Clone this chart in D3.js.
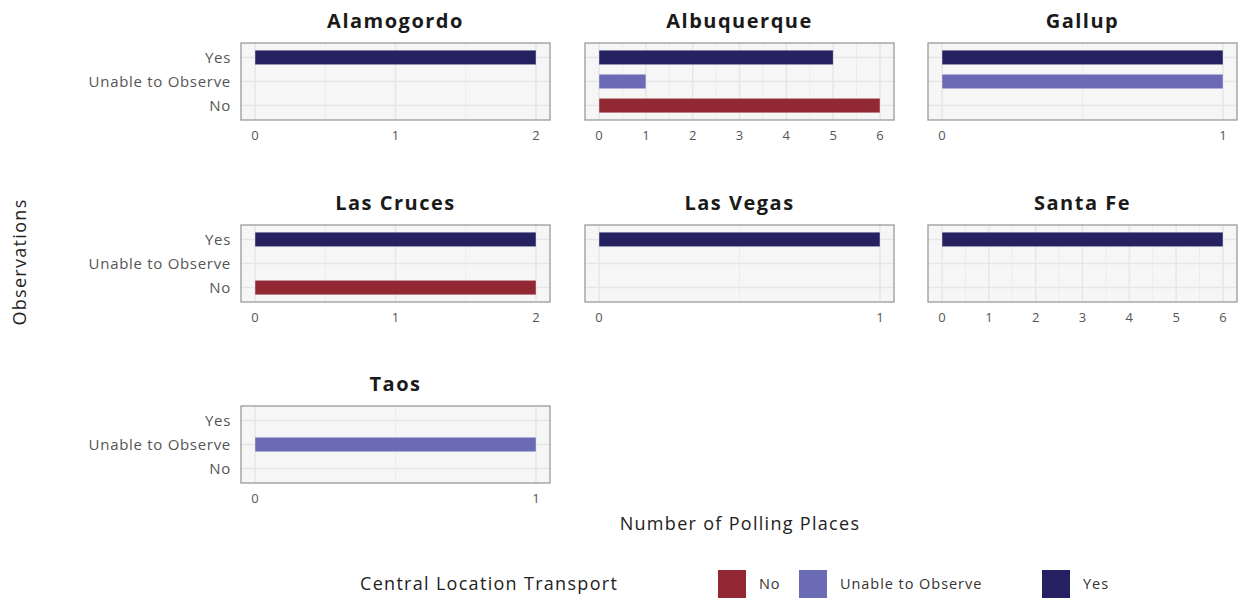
<!DOCTYPE html>
<html>
<head>
<meta charset="utf-8">
<script src="https://cdn.jsdelivr.net/npm/d3@7"></script>
<style>
  body { margin: 0; background: #fff; }
  svg text { font-family: "Open Sans", Roboto, sans-serif; }
</style>
</head>
<body>
<script>
// data
var cities = ["Alamogordo", "Albuquerque", "Gallup", "Las Cruces", "Las Vegas", "Santa Fe", "Taos"];
var categories = ["No", "Unable to Observe", "Yes"];
var yesCounts    = [2, 5, 1, 2, 1, 6, 0];
var unableCounts = [0, 1, 1, 0, 0, 0, 1];
var noCounts     = [0, 6, 0, 2, 0, 0, 0];
var colors = ["#922834", "#6b6ab5", "#262262"];

var w = 1239, h = 598;

var svg = d3.select("body").append("svg")
    .attr("width", w)
    .attr("height", h);

var colX = [241, 585, 928];
var rowY = [43, 225, 406];
var pw = 309, ph = 77;

var color = d3.scaleOrdinal().domain(categories).range(colors);

// y: discrete, Yes on top (ggplot expand 0.6)
var y = d3.scalePoint()
    .domain(["Yes", "Unable to Observe", "No"])
    .range([0, ph])
    .padding(0.6);
var barH = y.step() * 0.6;

cities.forEach(function(city, i) {
  var col = i % 3, row = Math.floor(i / 3);
  var g = svg.append("g").attr("transform", "translate(" + colX[col] + "," + rowY[row] + ")");

  var vals = [noCounts[i], unableCounts[i], yesCounts[i]];
  var rows = categories.map(function(c, k) { return {cat: c, v: vals[k]}; });
  var maxV = d3.max(vals);

  var x = d3.scaleLinear()
      .domain([-maxV * 0.05, maxV * 1.05])
      .range([0, pw]);
  var ticks = d3.range(0, maxV + 1);
  var minor = d3.range(0.5, maxV, 1);

  g.append("rect")
      .attr("width", pw).attr("height", ph)
      .attr("fill", "#f6f6f6");

  g.selectAll(".minor")
      .data(minor).enter().append("line")
      .attr("x1", x).attr("x2", x)
      .attr("y1", 0).attr("y2", ph)
      .attr("stroke", "#ececec").attr("stroke-width", 1);

  g.selectAll(".major")
      .data(ticks).enter().append("line")
      .attr("x1", x).attr("x2", x)
      .attr("y1", 0).attr("y2", ph)
      .attr("stroke", "#e6e6e6").attr("stroke-width", 1.5);

  g.selectAll(".hgrid")
      .data(y.domain()).enter().append("line")
      .attr("x1", 0).attr("x2", pw)
      .attr("y1", y).attr("y2", y)
      .attr("stroke", "#e6e6e6").attr("stroke-width", 1.5);

  g.selectAll(".bar")
      .data(rows.filter(function(d) { return d.v > 0; }))
      .enter().append("rect")
      .attr("x", x(0))
      .attr("width", function(d) { return x(d.v) - x(0); })
      .attr("y", function(d) { return y(d.cat) - barH / 2; })
      .attr("height", barH)
      .attr("fill", function(d) { return color(d.cat); })
      .attr("stroke", "rgba(255,255,255,0.5)")
      .attr("stroke-width", 0.6);

  g.append("rect")
      .attr("width", pw).attr("height", ph)
      .attr("fill", "none")
      .attr("stroke", "#9a9a9a").attr("stroke-width", 1.3);

  // x tick labels
  g.selectAll(".xt")
      .data(ticks).enter().append("text")
      .attr("x", x)
      .attr("y", ph + 20)
      .attr("text-anchor", "middle")
      .attr("font-size", 13)
      .attr("fill", "#555")
      .text(function(d) { return d; });

  // strip title
  g.append("text")
      .attr("x", pw / 2)
      .attr("y", -15)
      .attr("text-anchor", "middle")
      .attr("font-size", 20)
      .attr("font-weight", "bold")
      .attr("letter-spacing", "1.5px")
      .attr("fill", "#1a1a1a")
      .text(city);

  // y labels only on first column
  if (col === 0) {
    g.selectAll(".yt")
        .data(y.domain()).enter().append("text")
        .attr("x", -10)
        .attr("y", y)
        .attr("dy", "0.35em")
        .attr("text-anchor", "end")
        .attr("font-size", 15)
        .attr("letter-spacing", "0.7px")
        .attr("fill", "#555")
        .text(function(d) { return d; });
  }
});

// axis titles
svg.append("text")
    .attr("transform", "translate(26,262) rotate(-90)")
    .attr("text-anchor", "middle")
    .attr("font-size", 18)
    .attr("letter-spacing", "1.3px")
    .attr("fill", "#222")
    .text("Observations");

svg.append("text")
    .attr("x", 740)
    .attr("y", 530)
    .attr("text-anchor", "middle")
    .attr("font-size", 18)
    .attr("letter-spacing", "1.3px")
    .attr("fill", "#222")
    .text("Number of Polling Places");

// legend
svg.append("text")
    .attr("x", 360)
    .attr("y", 590)
    .attr("font-size", 18)
    .attr("letter-spacing", "1.3px")
    .attr("fill", "#222")
    .text("Central Location Transport");

var legendX = [718, 799, 1042];
var lg = svg.selectAll(".legend")
    .data(categories).enter().append("g")
    .attr("transform", function(d, i) { return "translate(" + legendX[i] + ",570)"; });
lg.append("rect")
    .attr("width", 28).attr("height", 28)
    .attr("fill", function(d) { return color(d); });
lg.append("text")
    .attr("x", 41)
    .attr("y", 19)
    .attr("font-size", 14.5)
    .attr("letter-spacing", "0.95px")
    .attr("fill", "#333")
    .text(function(d) { return d; });
</script>
</body>
</html>
